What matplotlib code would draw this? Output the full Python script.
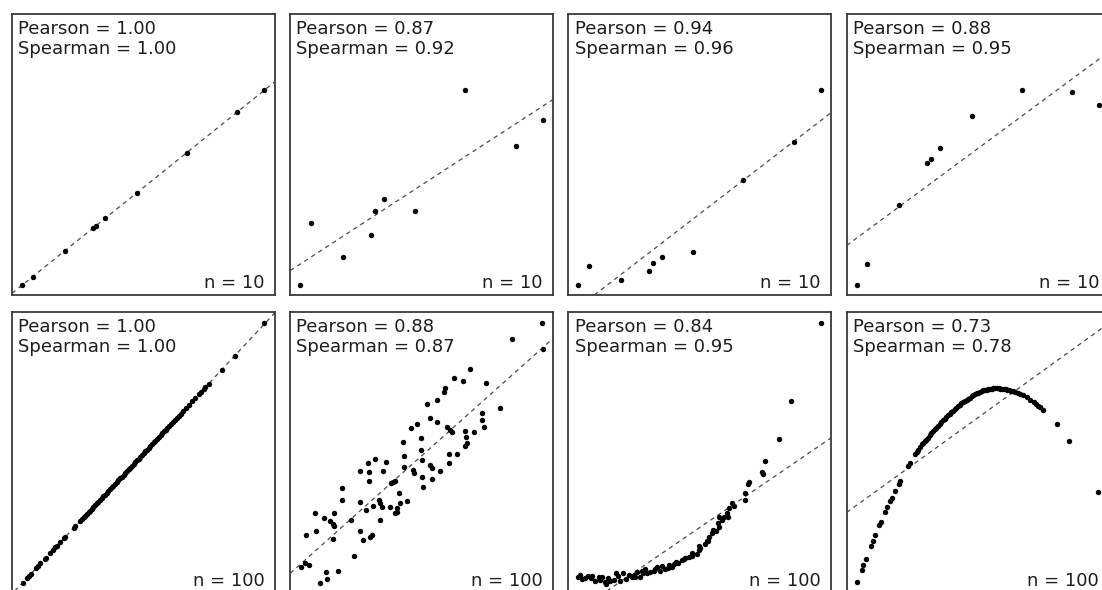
import numpy as np
import matplotlib.pyplot as plt

# -----------------------------------------------
# Values, in panel units (0..1 of each frame)
# -----------------------------------------------
x_small = [0.038, 0.079, 0.200, 0.307, 0.321, 0.355, 0.475, 0.665, 0.857, 0.960]
y_small_exact = [0.036, 0.065, 0.158, 0.237, 0.246, 0.273, 0.364, 0.506, 0.652, 0.730]
y_small_noisy = [0.036, 0.255, 0.134, 0.215, 0.298, 0.341, 0.300, 0.730, 0.531, 0.623]
y_small_convex = [0.036, 0.104, 0.053, 0.084, 0.113, 0.134, 0.152, 0.409, 0.543, 0.730]
y_small_concave = [0.036, 0.110, 0.321, 0.468, 0.484, 0.524, 0.636, 0.730, 0.722, 0.675]

x_big = [0.040, 0.057, 0.063, 0.072, 0.091, 0.099, 0.108, 0.124, 0.129, 0.146,
         0.155, 0.165, 0.171, 0.184, 0.197, 0.203, 0.234, 0.241, 0.260, 0.266,
         0.272, 0.278, 0.285, 0.291, 0.296, 0.303, 0.309, 0.316, 0.322, 0.328,
         0.334, 0.341, 0.347, 0.353, 0.360, 0.366, 0.372, 0.379, 0.385, 0.392,
         0.398, 0.404, 0.411, 0.417, 0.424, 0.430, 0.436, 0.443, 0.449, 0.456,
         0.462, 0.468, 0.475, 0.481, 0.488, 0.494, 0.500, 0.507, 0.513, 0.520,
         0.526, 0.532, 0.539, 0.545, 0.552, 0.558, 0.565, 0.571, 0.578, 0.584,
         0.590, 0.597, 0.604, 0.611, 0.618, 0.626, 0.634, 0.641, 0.650, 0.660,
         0.672, 0.685, 0.697, 0.712, 0.720, 0.729, 0.735, 0.748, 0.798, 0.847,
         0.957]

# perfectly linear panel: y reads the same as x
y_big_exact = [0.037, 0.054, 0.060, 0.069, 0.088, 0.096, 0.105, 0.121, 0.126, 0.143,
               0.152, 0.162, 0.168, 0.181, 0.194, 0.200, 0.231, 0.238, 0.257, 0.263,
               0.269, 0.275, 0.282, 0.288, 0.293, 0.300, 0.306, 0.313, 0.319, 0.325,
               0.331, 0.338, 0.344, 0.350, 0.357, 0.363, 0.369, 0.376, 0.382, 0.389,
               0.395, 0.401, 0.408, 0.414, 0.421, 0.427, 0.433, 0.440, 0.446, 0.453,
               0.459, 0.465, 0.472, 0.478, 0.485, 0.491, 0.497, 0.504, 0.510, 0.517,
               0.523, 0.529, 0.536, 0.542, 0.549, 0.555, 0.562, 0.568, 0.575, 0.581,
               0.587, 0.594, 0.601, 0.608, 0.615, 0.623, 0.631, 0.638, 0.647, 0.657,
               0.669, 0.682, 0.694, 0.709, 0.717, 0.726, 0.732, 0.745, 0.795, 0.844,
               0.960]

# arch-shaped panel
y_big_arch = [0.040, 0.083, 0.098, 0.120, 0.166, 0.185, 0.205, 0.241, 0.252, 0.288,
              0.306, 0.326, 0.338, 0.363, 0.387, 0.398, 0.451, 0.463, 0.493, 0.502,
              0.510, 0.519, 0.529, 0.535, 0.540, 0.545, 0.553, 0.562, 0.569, 0.576,
              0.582, 0.588, 0.594, 0.601, 0.608, 0.614, 0.620, 0.627, 0.632, 0.638,
              0.644, 0.648, 0.654, 0.659, 0.664, 0.668, 0.676, 0.680, 0.684, 0.688,
              0.691, 0.695, 0.702, 0.705, 0.708, 0.710, 0.712, 0.716, 0.718, 0.721,
              0.723, 0.724, 0.726, 0.727, 0.727, 0.728, 0.728, 0.728, 0.728, 0.727,
              0.727, 0.726, 0.725, 0.724, 0.722, 0.720, 0.718, 0.716, 0.712, 0.708,
              0.703, 0.696, 0.688, 0.679, 0.673, 0.666, 0.661, 0.650, 0.601, 0.540,
              0.361]

# noisy linear panel (n = 100)
x_scatter = [0.957, 0.845, 0.961, 0.684, 0.621, 0.657, 0.745, 0.589, 0.586, 0.558,
             0.522, 0.796, 0.729, 0.530, 0.558, 0.729, 0.735, 0.596, 0.606, 0.615,
             0.665, 0.700, 0.459, 0.484, 0.428, 0.497, 0.669, 0.672, 0.665, 0.602,
             0.636, 0.497, 0.323, 0.294, 0.365, 0.431, 0.501, 0.602, 0.264, 0.298,
             0.352, 0.431, 0.466, 0.469, 0.532, 0.539, 0.570, 0.298, 0.390, 0.399,
             0.383, 0.501, 0.539, 0.504, 0.196, 0.198, 0.266, 0.336, 0.342, 0.412,
             0.444, 0.418, 0.349, 0.314, 0.380, 0.406, 0.289, 0.406, 0.399, 0.095,
             0.127, 0.167, 0.152, 0.162, 0.231, 0.340, 0.167, 0.061, 0.099, 0.266,
             0.311, 0.162, 0.276, 0.304, 0.241, 0.041, 0.057, 0.070, 0.112, 0.139,
             0.137, 0.180]
y_scatter = [0.962, 0.903, 0.867, 0.797, 0.764, 0.756, 0.749, 0.728, 0.716, 0.687,
             0.671, 0.657, 0.639, 0.622, 0.610, 0.616, 0.592, 0.592, 0.580, 0.574,
             0.578, 0.574, 0.588, 0.600, 0.539, 0.553, 0.554, 0.533, 0.524, 0.495,
             0.495, 0.509, 0.476, 0.461, 0.465, 0.488, 0.473, 0.464, 0.434, 0.432,
             0.435, 0.447, 0.438, 0.426, 0.456, 0.444, 0.434, 0.400, 0.396, 0.400,
             0.393, 0.414, 0.405, 0.376, 0.372, 0.331, 0.325, 0.331, 0.319, 0.355,
             0.327, 0.319, 0.305, 0.310, 0.307, 0.301, 0.295, 0.289, 0.284, 0.286,
             0.266, 0.286, 0.257, 0.246, 0.260, 0.260, 0.238, 0.206, 0.222, 0.222,
             0.205, 0.191, 0.189, 0.198, 0.132, 0.091, 0.106, 0.100, 0.034, 0.049,
             0.076, 0.079]

# exponential-looking panel (n = 100)
x_growth = [0.961, 0.848, 0.802, 0.747, 0.736, 0.739, 0.686, 0.683, 0.673, 0.670,
            0.622, 0.612, 0.603, 0.607, 0.584, 0.572, 0.569, 0.574, 0.549, 0.546,
            0.534, 0.527, 0.521, 0.498, 0.496, 0.489, 0.470, 0.458, 0.445, 0.432,
            0.417, 0.401, 0.394, 0.381, 0.369, 0.356, 0.337, 0.324, 0.312, 0.293,
            0.283, 0.274, 0.261, 0.255, 0.242, 0.229, 0.207, 0.198, 0.181, 0.172,
            0.160, 0.143, 0.138, 0.128, 0.115, 0.103, 0.087, 0.075, 0.062, 0.046,
            0.037, 0.050, 0.090, 0.120, 0.150, 0.190, 0.220, 0.250, 0.280, 0.300,
            0.330, 0.350, 0.380, 0.410, 0.440, 0.470, 0.500, 0.530, 0.560, 0.590,
            0.630]
y_growth = [0.960, 0.684, 0.547, 0.471, 0.432, 0.423, 0.396, 0.387, 0.355, 0.331,
            0.319, 0.301, 0.284, 0.269, 0.260, 0.272, 0.250, 0.236, 0.224, 0.212,
            0.198, 0.186, 0.174, 0.167, 0.153, 0.139, 0.141, 0.129, 0.125, 0.117,
            0.106, 0.103, 0.091, 0.098, 0.087, 0.096, 0.091, 0.079, 0.075, 0.084,
            0.070, 0.058, 0.076, 0.056, 0.058, 0.063, 0.070, 0.044, 0.070, 0.046,
            0.044, 0.032, 0.040, 0.056, 0.058, 0.044, 0.052, 0.060, 0.052, 0.064,
            0.056, 0.050, 0.060, 0.045, 0.055, 0.060, 0.050, 0.065, 0.080, 0.070,
            0.085, 0.080, 0.090, 0.110, 0.120, 0.130, 0.160, 0.185, 0.220, 0.270,
            0.310]

pearson_labels = ["1.00", "0.87", "0.94", "0.88", "1.00", "0.88", "0.84", "0.73"]
spearman_labels = ["1.00", "0.92", "0.96", "0.95", "1.00", "0.87", "0.95", "0.78"]
n_labels = ["10", "10", "10", "10", "100", "100", "100", "100"]

panels = [
    (x_small, y_small_exact), (x_small, y_small_noisy),
    (x_small, y_small_convex), (x_small, y_small_concave),
    (x_big, y_big_exact), (x_scatter, y_scatter),
    (x_growth, y_growth), (x_big, y_big_arch),
]

# -----------------------------------------------
# Layout (pixel boxes of the frames, the last column / row run off the image)
# -----------------------------------------------
W, H = 1102, 590
PANEL_W, PANEL_H = 263, 281
LEFTS = [12, 290.2, 568.4, 846.7]
TOPS = [14, 312]

TEXT_COLOR = "#1e1e1e"
FONT = "DejaVu Sans"

fig = plt.figure(figsize=(W / 100, H / 100), dpi=100)
fig.patch.set_facecolor("white")

for i, (xs, ys) in enumerate(panels):
    row, col = divmod(i, 4)
    left = LEFTS[col] / W
    bottom = (H - TOPS[row] - PANEL_H) / H
    ax = fig.add_axes([left, bottom, PANEL_W / W, PANEL_H / H])

    xs = np.asarray(xs)
    ys = np.asarray(ys)
    slope, intercept = np.polyfit(xs, ys, 1)
    ax.axline((0, intercept), slope=slope, color="#4a4a4a", lw=0.9,
              ls=(0, (3.5, 3.2)), zorder=1)
    ax.plot(xs, ys, "o", color="black", ms=3.9, mew=0, zorder=2)

    ax.set_xlim(0, 1)
    ax.set_ylim(0, 1)
    ax.set_xticks([])
    ax.set_yticks([])
    for sp in ax.spines.values():
        sp.set_color("#3a3a3a")
        sp.set_linewidth(1.3)

    ax.annotate(f"Pearson = {pearson_labels[i]}", xy=(0, 1), xycoords="axes fraction",
                xytext=(4.5, -14.4), textcoords="offset points",
                ha="left", va="baseline", fontsize=13, family=FONT, color=TEXT_COLOR)
    ax.annotate(f"Spearman = {spearman_labels[i]}", xy=(0, 1), xycoords="axes fraction",
                xytext=(4.5, -28.8), textcoords="offset points",
                ha="left", va="baseline", fontsize=13, family=FONT, color=TEXT_COLOR)
    ax.annotate(f"n = {n_labels[i]}", xy=(1, 0), xycoords="axes fraction",
                xytext=(-7.6, 5.2), textcoords="offset points",
                ha="right", va="baseline", fontsize=13, family=FONT, color=TEXT_COLOR)

fig.savefig("out.png", dpi=100)
